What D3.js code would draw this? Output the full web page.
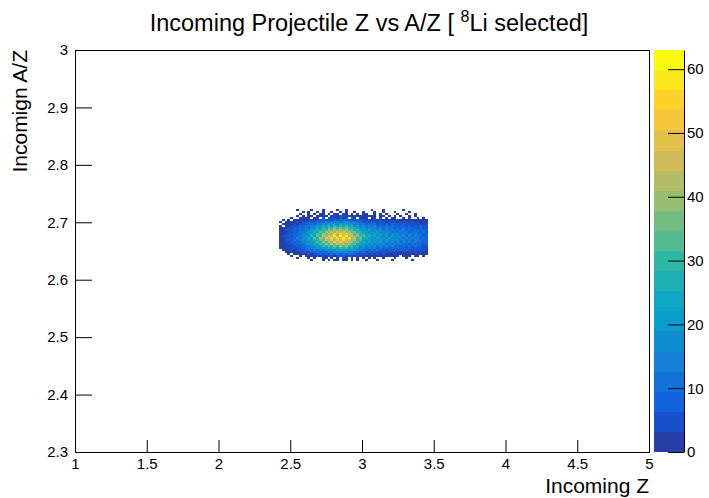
<!DOCTYPE html>
<html>
<head>
<meta charset="utf-8">
<script src="https://cdn.jsdelivr.net/npm/d3@7"></script>
<style>
  body { margin: 0; background: #fff; }
  text { font-family: "Liberation Sans", Arial, Helvetica, sans-serif; }
</style>
</head>
<body>
<script>
// histogram binning (Incoming Z on x, A/Z on y)
const zRange = [1, 5];
const zBins = 200;
const aqRange = [2.3, 3];
const aqBins = 200;

// counts of the filled region, one string per A/Z bin from top (bin 120) down,
// one char per Z bin starting at bin 71. '.' = empty, else index in CODE
const CODE = "0123456789abcdefghijklmnopqrstuvwxyzABCDEFGHIJKLMNOPQRSTUVWXYZ#$";
const firstZBin = 71;
const topAQBin = 120;
const countRows = [
  "......1... .1...1.... 1..1...... ..1...1... ...1...... ..",
  "........1. 1..1.1..1. .1.1..1..1 ...1..1... 1....1.... ..",
  ".......1.. 1.1.11.2.1 1.21.2.1.1 1..1.1.1.. .1..1..1.. ..",
  "......1.1. 21.2132.34 2543432121 2121.11.1. 1.1..1.1.. ..",
  "....1..212 1.32.4.546 3625.43.31 2.21.2.1.2 1..1.2..1. 1.",
  ".1.1.12132 353648596a 7b8a685745 3534243423 2423132312 12",
  "1.12224354 7597b9dafb gchdfbd8a6 8574646354 5353434243 23",
  ".122343658 7b9echekgm iojnhkegad 8b7a695867 5747464635 34",
  "1.2345587b afdjgokrmu ovpumqileh bead9c8b8a 7979685857 45",
  "1134577a9d cignltpxsz uBvAsvnpik ehdgbeadac 9b8b7a7968 56",
  "1244688bbf fljrpxuCyG AHBGxArtln hkfidgcfbe adad9c8b89 77",
  "1336699dch ljrozvFALE NFOEIyBrtl oimgkeidhc fbeae9cab8 a6",
  "225488cbgf jqpxuFBLGQ ITKRGJxBrt lpinhlfjei dhcgcfbeac 97",
  "24476bafek itoBvLCQGW LYNVFOAEtw lrjohmflej didhbgcfac 89",
  "136598dchi plwrFzNFTK UJ$MSEJvzo skpingkfje idhcgbfae9 b7",
  "13476abdgh okusCyJEPI RKTJOBGtwp mpimhkfjei ehcgbfbeac 98",
  "225587cbfg hpmwsEyKDP GQIODHwzps knilgkeidh cgbfbead9b 88",
  "1336598cbg khqnxtDyHB JCLBGvApsk mhkfidgcfb eadac9b8a8 77",
  "12436698cb digoluqytB vDwCtxorim fidgbfaead 9c8b8b7a79 65",
  "112446687b afdkhpltov pxqvnrjmfh cfae9c8b8a 7a79696857 45",
  ".122436587 b8dafciekh ojpkmgjdfa b9a7a79686 8575756464 43",
  "..12233546 587a8c9ebg dhegcfac8a 6857564645 4535343424 23",
  "...1.12132 43647596a7 b8c9a78564 5353424332 3232313221 12",
  "....1..1.2 1324253453 6473543423 2312212121 12.211.21. 1.",
  "......1... 1.2..21.3. 2.42.1.2.1 .1.1..1... 1...1..... ..",
  ".......... .1...1.1.1 1.21.1.1.. 1...1....1 ......1... ..",
];

// axis ticks
const xTicks = [1, 1.5, 2, 2.5, 3, 3.5, 4, 4.5, 5];
const yTicks = [2.3, 2.4, 2.5, 2.6, 2.7, 2.8, 2.9, 3];
const paletteTicks = [0, 10, 20, 30, 40, 50, 60];

// ROOT kBird palette
const birdStops = [0.0, 0.125, 0.25, 0.375, 0.5, 0.625, 0.75, 0.875, 1.0];
const birdRed = [0.2082, 0.0592, 0.0780, 0.0232, 0.1802, 0.5301, 0.8186, 0.9956, 0.9764];
const birdGreen = [0.1664, 0.3599, 0.5041, 0.6419, 0.7178, 0.7492, 0.7328, 0.7862, 0.9832];
const birdBlue = [0.5293, 0.8684, 0.8385, 0.7914, 0.6425, 0.4662, 0.3499, 0.1968, 0.0539];
const nLevels = 20;

let width = 709;
let height = 498;

let svg = d3.select('body').append('svg')
  .attr('width', width)
  .attr('height', height);

let x = d3.scaleLinear().domain(zRange).range([75, 649]);
let y = d3.scaleLinear().domain(aqRange).range([452, 50]);

let cells = [];
countRows.forEach((row, r) => {
  row.replace(/ /g, '').split('').forEach((ch, c) => {
    let n = ch === '.' ? 0 : CODE.indexOf(ch);
    if (n > 0) cells.push({ i: firstZBin + c, j: topAQBin - r, n: n });
  });
});

let zMax = d3.max(cells, (d) => d.n);
let z = d3.scaleLinear().domain([0, zMax]).range([452, 50]);

let bird = d3.scaleLinear()
  .domain(birdStops)
  .range(birdStops.map((s, k) => d3.rgb(birdRed[k] * 255, birdGreen[k] * 255, birdBlue[k] * 255)));

let levelColour = (lv) => bird(Math.floor((lv + 0.99) * 255 / nLevels) / 254);
let level = (n) => Math.min(nLevels - 1, Math.floor(n / (zMax / nLevels)));

let dz = (zRange[1] - zRange[0]) / zBins;
let daq = (aqRange[1] - aqRange[0]) / aqBins;

// cells
svg.append('g')
  .attr('shape-rendering', 'crispEdges')
  .selectAll('rect')
  .data(cells)
  .enter().append('rect')
  .attr('x', (d) => x(zRange[0] + d.i * dz))
  .attr('width', (d) => x(zRange[0] + (d.i + 1) * dz) - x(zRange[0] + d.i * dz))
  .attr('y', (d) => y(aqRange[0] + (d.j + 1) * daq))
  .attr('height', (d) => y(aqRange[0] + d.j * daq) - y(aqRange[0] + (d.j + 1) * daq))
  .attr('fill', (d) => levelColour(level(d.n)));

// axes
let fmt = d3.format('~g');

let xg = svg.append('g').attr('transform', 'translate(0,452)');
xg.call(d3.axisBottom(x).tickValues(d3.range(1, 5.001, 0.1)).tickSize(-6).tickFormat(''));
xg.call(d3.axisBottom(x).tickValues(xTicks).tickSize(-12).tickPadding(6).tickFormat(fmt));

let yg = svg.append('g').attr('transform', 'translate(75,0)');
yg.call(d3.axisLeft(y).tickValues(d3.range(2.3, 3.001, 0.02)).tickSize(-8.5).tickFormat(''));
yg.call(d3.axisLeft(y).tickValues(yTicks).tickSize(-17).tickPadding(7).tickFormat(fmt));

svg.selectAll('.domain').remove();
svg.selectAll('.tick text').attr('font-size', 15).attr('fill', '#000')
  .style('font-family', '"Liberation Sans", Arial, sans-serif');

svg.append('rect')
  .attr('x', 75.5).attr('y', 50.5)
  .attr('width', 574).attr('height', 402)
  .attr('fill', 'none').attr('stroke', '#000');

// palette
let palette = svg.append('g').attr('shape-rendering', 'crispEdges');
palette.selectAll('rect')
  .data(d3.range(nLevels))
  .enter().append('rect')
  .attr('x', 654)
  .attr('width', 30)
  .attr('y', (lv) => z((lv + 1) * zMax / nLevels))
  .attr('height', (lv) => z(lv * zMax / nLevels) - z((lv + 1) * zMax / nLevels))
  .attr('fill', (lv) => levelColour(lv));

let pg = svg.append('g').attr('transform', 'translate(684,0)');
pg.call(d3.axisRight(z).tickValues(paletteTicks).tickSize(-16).tickSizeOuter(0).tickPadding(3).tickFormat(fmt));
pg.selectAll('.tick text').attr('font-size', 15).attr('fill', '#000')
  .style('font-family', '"Liberation Sans", Arial, sans-serif');

// titles
let title = svg.append('text')
  .attr('x', 369).attr('y', 31)
  .attr('text-anchor', 'middle')
  .attr('font-size', 23.5);
title.append('tspan').text('Incoming Projectile Z vs A/Z [ ');
title.append('tspan').attr('font-size', 16).attr('dy', -9).text('8');
title.append('tspan').attr('dy', 9).text('Li selected]');

svg.append('text')
  .attr('x', 649).attr('y', 493)
  .attr('text-anchor', 'end')
  .attr('font-size', 21)
  .text('Incoming Z');

svg.append('text')
  .attr('transform', 'translate(27,50) rotate(-90)')
  .attr('text-anchor', 'end')
  .attr('font-size', 21)
  .text('Incomign A/Z');
</script>
</body>
</html>
